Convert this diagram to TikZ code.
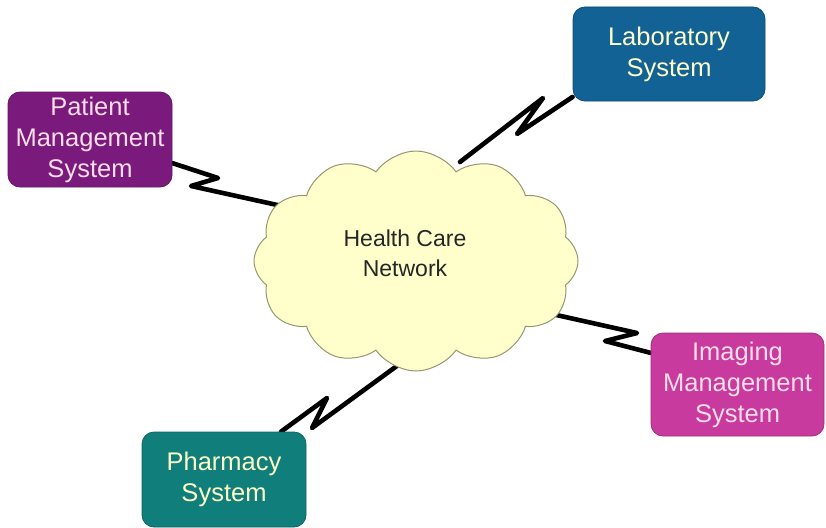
\documentclass[tikz,border=0pt]{standalone}
\usepackage{fontspec}
\setmainfont{Liberation Sans}
\usetikzlibrary{shapes.symbols,backgrounds}

\definecolor{pmcol}{RGB}{122,26,124}
\definecolor{labcol}{RGB}{18,98,150}
\definecolor{imgcol}{RGB}{200,58,158}
\definecolor{phcol}{RGB}{16,126,122}
\definecolor{pinktext}{RGB}{252,222,230}
\definecolor{yellowtext}{RGB}{255,255,200}
\definecolor{cloudfill}{RGB}{255,255,204}
\definecolor{cloudline}{RGB}{150,150,112}

\begin{document}
\begin{tikzpicture}[x=1pt,y=-1pt,
  sysbox/.style={draw=#1!80!black, fill=#1, rounded corners=12pt, line width=0.8pt,
    align=center, inner sep=0pt, font=\fontsize{25.5}{31}\selectfont},
  netcloud/.style={cloud, cloud puffs=12, cloud puff arc=110, cloud ignores aspect,
    draw=cloudline, fill=cloudfill, line width=1pt, inner sep=0pt},
  link/.style={line width=4.6pt, line join=round, line cap=round, draw=black}]

\useasboundingbox (0,0) rectangle (826,527);

% network cloud and its label
\node[netcloud, minimum width=324pt, minimum height=220pt] (hc) at (416,261) {};
\node[align=center, font=\fontsize{23}{30}\selectfont, text=black!85] (hclabel) at (405,253)
  {Health Care\\Network};

% attached systems
\node[sysbox=pmcol, text=pinktext, minimum width=164pt, minimum height=95pt] (pm) at (90,139.5)
  {Patient\\Management\\System};
\node[sysbox=labcol, text=yellowtext, minimum width=192pt, minimum height=94pt] (lab) at (669,54)
  {Laboratory\\System};
\node[sysbox=imgcol, text=pinktext, minimum width=173pt, minimum height=103pt] (img) at (737.5,384.5)
  {Imaging\\Management\\System};
\node[sysbox=phcol, text=yellowtext, minimum width=164pt, minimum height=95pt] (ph) at (224,479.5)
  {Pharmacy\\System};

% bend points of the lightning links
\coordinate (pz1) at (218,178);
\coordinate (pz2) at (191,186);
\coordinate (pin) at (300,210);
\coordinate (lz1) at (517,134);
\coordinate (lz2) at (543,98);
\coordinate (lin) at (460,162);
\coordinate (iz1) at (637,333);
\coordinate (iz2) at (605,341);
\coordinate (iin) at (525,308);
\coordinate (hz1) at (327,398);
\coordinate (hz2) at (312,428);
\coordinate (hin) at (405,360);

\begin{scope}[on background layer]
  \draw[link] (pm.-16) -- (pz1) -- (pz2) -- (pin);
  \draw[link] (lab.204) -- (lz1) -- (lz2) -- (lin);
  \draw[link] (iin) -- (iz1) -- (iz2) -- (img.160);
  \draw[link] (ph.40) -- (hz1) -- (hz2) -- (hin);
\end{scope}
\end{tikzpicture}
\end{document}
